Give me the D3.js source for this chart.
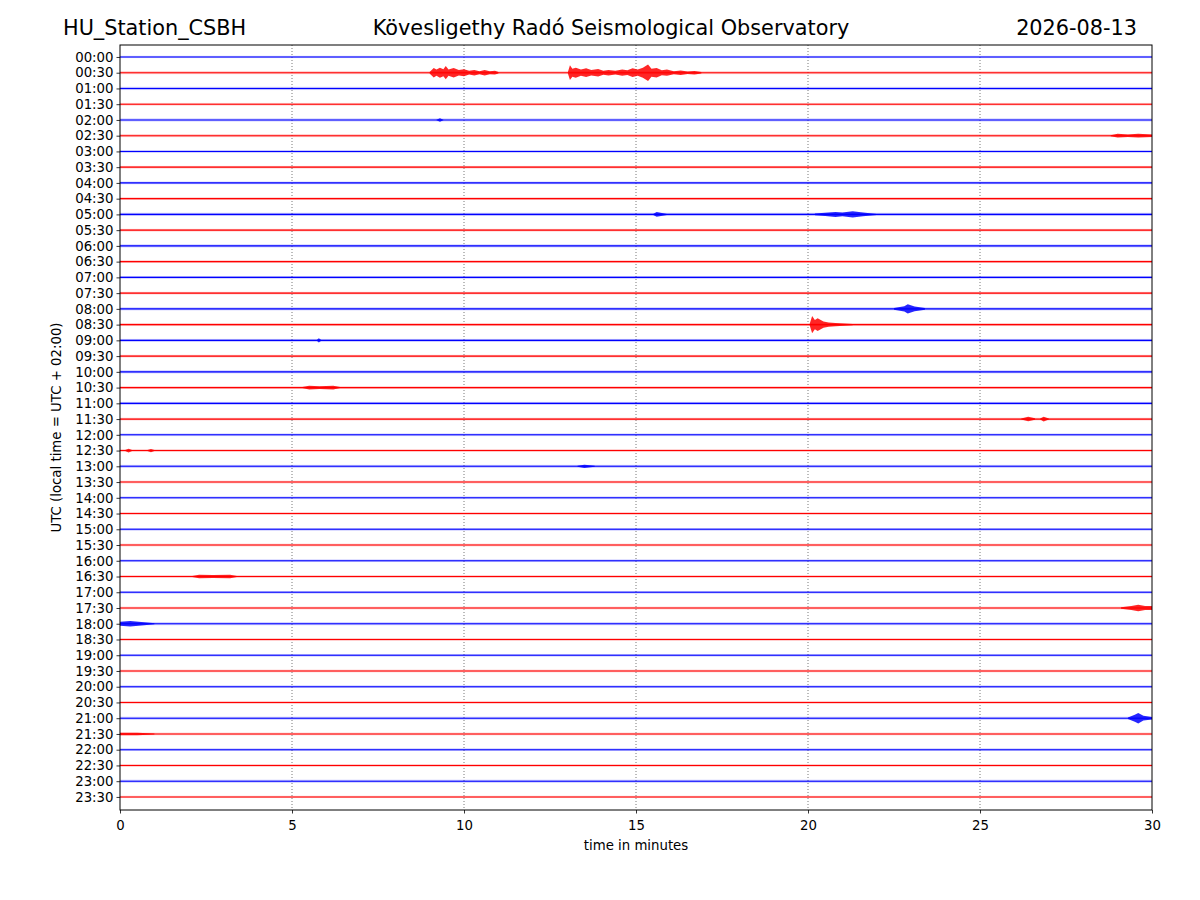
<!DOCTYPE html>
<html>
<head>
<meta charset="utf-8">
<script src="https://cdn.jsdelivr.net/npm/d3@7"></script>
<style>
  body { margin: 0; background: #fff; }
  text { font-family: "DejaVu Sans", sans-serif; fill: #000; }
</style>
</head>
<body>
<div id="chart"></div>
<script>
var station = "HU_Station_CSBH";
var observatory = "Kövesligethy Radó Seismological Observatory";
var day = "2026-08-13";

var rowLabels = ["00:00","00:30","01:00","01:30","02:00","02:30","03:00","03:30","04:00","04:30",
  "05:00","05:30","06:00","06:30","07:00","07:30","08:00","08:30","09:00","09:30",
  "10:00","10:30","11:00","11:30","12:00","12:30","13:00","13:30","14:00","14:30",
  "15:00","15:30","16:00","16:30","17:00","17:30","18:00","18:30","19:00","19:30",
  "20:00","20:30","21:00","21:30","22:00","22:30","23:00","23:30"];
var minuteTicks = [0, 5, 10, 15, 20, 25, 30];
var traceColors = ["#0000ff", "#ff0000"];

// background noise level of each row (fraction of row spacing)
var noiseLevel = [0.07,0.09,0.1,0.08,0.09,0.09,0.08,0.08,0.08,0.08,
  0.1,0.08,0.09,0.08,0.08,0.08,0.09,0.09,0.09,0.08,
  0.09,0.08,0.09,0.08,0.08,0.08,0.09,0.08,0.08,0.08,
  0.08,0.08,0.08,0.08,0.08,0.08,0.09,0.08,0.08,0.08,
  0.08,0.08,0.09,0.08,0.08,0.08,0.09,0.07];

// event envelopes: row index, then [minute, half amplitude in row spacings]
var events = [
  {row: 1, env: [[9.0,0.05],[9.12,0.3],[9.2,0.2],[9.3,0.32],[9.4,0.22],[9.47,0.42],[9.55,0.2],[9.7,0.3],[9.85,0.18],[10.0,0.22],
    [10.15,0.12],[10.3,0.18],[10.45,0.1],[10.6,0.17],[10.75,0.1],[10.9,0.12],[11.0,0.05]]},
  {row: 1, env: [[13.02,0.05],[13.08,0.47],[13.15,0.25],[13.25,0.32],[13.4,0.2],[13.55,0.28],[13.7,0.18],[13.9,0.24],[14.05,0.13],
    [14.2,0.18],[14.4,0.12],[14.6,0.2],[14.75,0.15],[14.9,0.28],[15.05,0.2],[15.2,0.32],[15.35,0.52],[15.45,0.25],[15.6,0.3],
    [15.75,0.16],[15.9,0.2],[16.1,0.1],[16.3,0.14],[16.5,0.08],[16.7,0.11],[16.9,0.05]]},
  {row: 4, env: [[9.2,0.02],[9.3,0.11],[9.4,0.02]]},
  {row: 5, env: [[28.8,0.03],[29.0,0.12],[29.3,0.08],[29.6,0.12],[30,0.08]]},
  {row: 10, env: [[15.5,0.03],[15.6,0.15],[15.9,0.03]]},
  {row: 10, env: [[20.2,0.05],[20.5,0.1],[20.8,0.16],[21.0,0.12],[21.3,0.2],[21.6,0.12],[22.0,0.03]]},
  {row: 16, env: [[22.5,0.05],[22.8,0.16],[22.9,0.3],[23.1,0.15],[23.4,0.05]]},
  {row: 17, env: [[20.05,0.05],[20.12,0.55],[20.2,0.3],[20.28,0.4],[20.45,0.2],[20.6,0.14],[20.8,0.1],[21.3,0.04]]},
  {row: 18, env: [[5.72,0.03],[5.78,0.13],[5.85,0.03]]},
  {row: 21, env: [[5.3,0.03],[5.5,0.12],[5.8,0.09],[6.2,0.12],[6.4,0.03]]},
  {row: 23, env: [[26.2,0.03],[26.4,0.14],[26.6,0.05]]},
  {row: 23, env: [[26.75,0.03],[26.85,0.15],[27.0,0.03]]},
  {row: 25, env: [[0.15,0.03],[0.25,0.12],[0.35,0.03]]},
  {row: 25, env: [[0.8,0.03],[0.9,0.1],[1.0,0.03]]},
  {row: 26, env: [[13.3,0.03],[13.5,0.1],[13.8,0.03]]},
  {row: 33, env: [[2.1,0.03],[2.3,0.11],[2.7,0.09],[3.2,0.11],[3.4,0.03]]},
  {row: 35, env: [[29.1,0.05],[29.4,0.13],[29.6,0.21],[29.8,0.13],[30,0.12]]},
  {row: 36, env: [[0,0.13],[0.3,0.17],[0.7,0.1],[1.0,0.03]]},
  {row: 42, env: [[29.3,0.05],[29.5,0.22],[29.6,0.33],[29.75,0.15],[30,0.08]]},
  {row: 43, env: [[0,0.08],[0.5,0.08],[1.0,0.03]]}
];

var width = 1200, height = 900;
var margin = {top: 45, right: 48, bottom: 90, left: 120};

var svg = d3.select('#chart').append('svg').attr('width', width).attr('height', height);

var x = d3.scaleLinear().domain([0, 30]).range([margin.left, width - margin.right]);
var y = d3.scaleLinear().domain([-0.76, rowLabels.length - 1 + 0.83]).range([margin.top, height - margin.bottom]);
var rowSpacing = y(1) - y(0);

// grid
svg.append('g').selectAll('line').data(minuteTicks.slice(1, -1)).enter().append('line')
  .attr('x1', function(d) { return x(d); }).attr('x2', function(d) { return x(d); })
  .attr('y1', margin.top).attr('y2', height - margin.bottom)
  .attr('stroke', '#555').attr('stroke-width', 0.8).attr('stroke-dasharray', '1,2');

// traces
var traces = svg.append('g');
rowLabels.forEach(function(label, i) {
  var c = traceColors[i % 2];
  var yy = y(i);
  traces.append('rect')
    .attr('x', x(0)).attr('width', x(30) - x(0))
    .attr('y', yy - noiseLevel[i] * rowSpacing).attr('height', 2 * noiseLevel[i] * rowSpacing)
    .attr('fill', c).attr('opacity', 0.25);
  traces.append('line')
    .attr('x1', x(0)).attr('x2', x(30)).attr('y1', yy).attr('y2', yy)
    .attr('stroke', c).attr('stroke-width', 1.1);
});

var area = d3.area()
  .x(function(d) { return x(d[0]); })
  .y0(function(d) { return d.base + d[1] * rowSpacing; })
  .y1(function(d) { return d.base - d[1] * rowSpacing; });

events.forEach(function(ev) {
  var base = y(ev.row);
  var pts = ev.env.map(function(p) { var q = [p[0], p[1]]; q.base = base; return q; });
  traces.append('path').attr('d', area(pts))
    .attr('fill', traceColors[ev.row % 2]).attr('opacity', 0.85);
});

// axes
var xAxis = d3.axisBottom(x).tickValues(minuteTicks).tickFormat(d3.format('d')).tickSizeOuter(0).tickSize(3.5);
var gx = svg.append('g').attr('transform', 'translate(0,' + (height - margin.bottom) + ')').call(xAxis);
gx.selectAll('text').style('font-size', '13.3px').attr('dy', '1.0em');

var yAxis = d3.axisLeft(y).tickValues(d3.range(rowLabels.length))
  .tickFormat(function(d) { return rowLabels[d]; }).tickSizeOuter(0).tickSize(3.5);
var gy = svg.append('g').attr('transform', 'translate(' + margin.left + ',0)').call(yAxis);
gy.selectAll('text').style('font-size', '13.3px');
svg.selectAll('.domain').remove();
svg.selectAll('.tick line').attr('stroke', '#000').attr('stroke-width', 0.8);

svg.append('rect')
  .attr('x', margin.left).attr('y', margin.top)
  .attr('width', width - margin.left - margin.right).attr('height', height - margin.top - margin.bottom)
  .attr('fill', 'none').attr('stroke', '#000').attr('stroke-width', 1);

// labels
svg.append('text').attr('x', (x(0) + x(30)) / 2).attr('y', 850)
  .attr('text-anchor', 'middle').style('font-size', '13.3px').text('time in minutes');
svg.append('text').attr('transform', 'translate(61,' + ((margin.top + height - margin.bottom) / 2) + ') rotate(-90)')
  .attr('text-anchor', 'middle').style('font-size', '13.3px').text('UTC (local time = UTC + 02:00)');

svg.append('text').attr('x', 63).attr('y', 35).style('font-size', '20.8px').text(station);
svg.append('text').attr('x', 611).attr('y', 35).attr('text-anchor', 'middle').style('font-size', '20.8px').text(observatory);
svg.append('text').attr('x', 1137).attr('y', 35).attr('text-anchor', 'end').style('font-size', '20.8px').text(day);
</script>
</body>
</html>
